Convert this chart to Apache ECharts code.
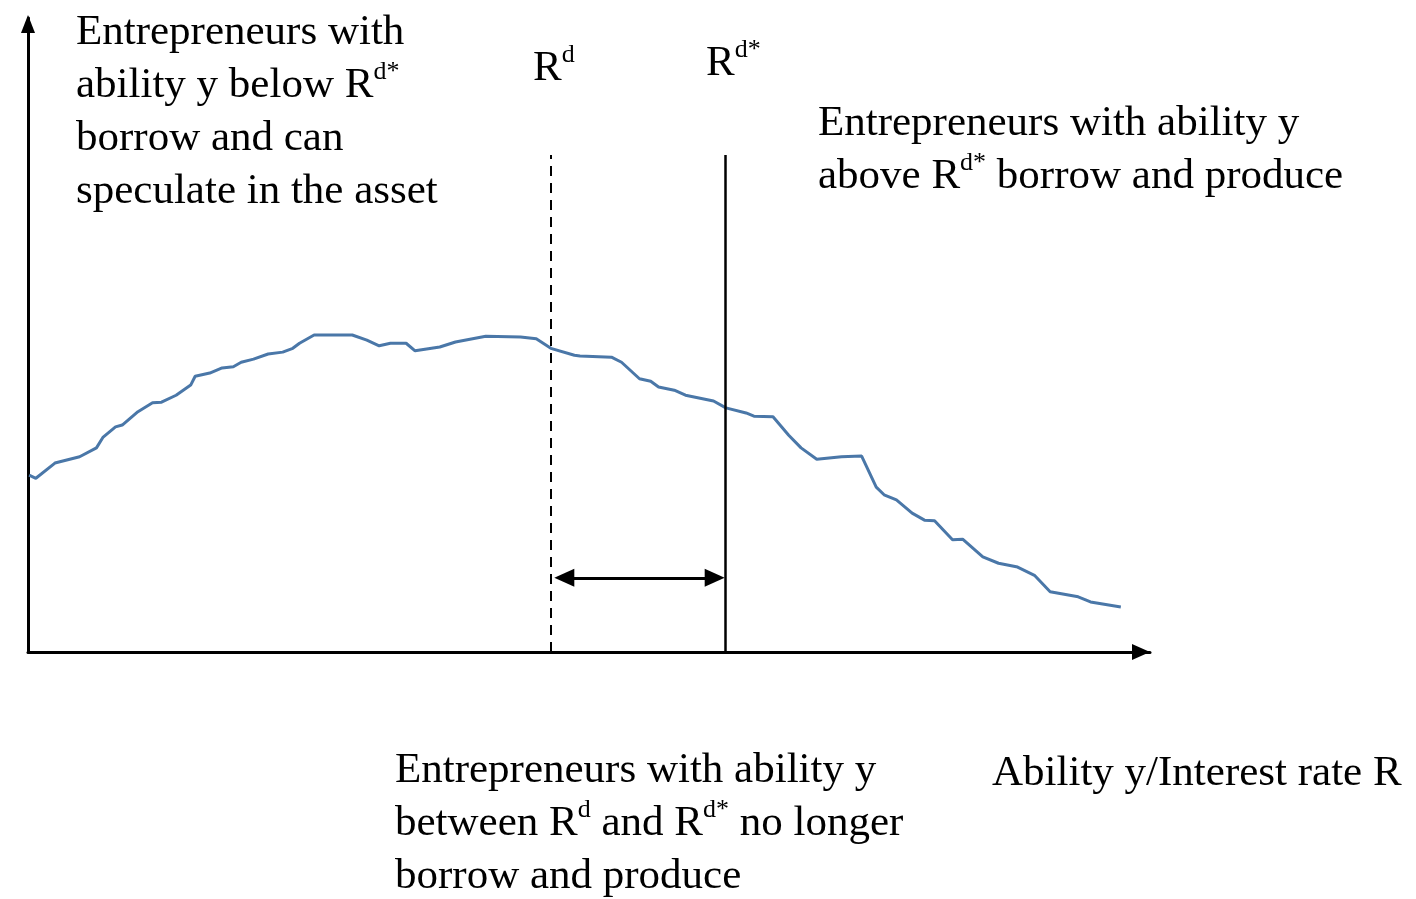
<!DOCTYPE html>
<html>
<head>
<meta charset="utf-8">
<title>Ability distribution</title>
<script src="https://cdn.jsdelivr.net/npm/echarts@6/dist/echarts.min.js"></script>
<style>
  html, body { margin: 0; padding: 0; background: #fff; }
  #chart { width: 1416px; height: 899px; }
</style>
</head>
<body>
<div id="chart"></div>
<script>
// ability y (x axis, 0-100) and density of entrepreneurs (y axis, 0-100)
const abilityX = [0.1, 0.7, 2.4, 4.6, 6.1, 6.7, 7.8, 8.4, 9.8, 11.1, 11.9, 13.2, 14.5, 14.9, 16.2, 17.3,
  18.3, 19.0, 20.1, 21.4, 22.7, 23.6, 24.2, 25.5, 26.8, 28.9, 30.2, 31.3, 32.3, 33.7, 34.5, 36.7,
  38.1, 40.8, 43.9, 45.3, 46.6, 48.7, 49.2, 52.0, 52.9, 54.5, 55.5, 56.2, 57.6, 58.6, 61.1, 62.2,
  64.0, 64.7, 66.4, 67.8, 68.9, 70.3, 72.5, 74.3, 75.6, 76.3, 77.4, 78.8, 79.9, 80.8, 81.6, 82.4,
  83.3, 85.1, 86.5, 88.2, 89.7, 91.1, 93.6, 94.7, 97.4];
const density = [27.9, 27.4, 29.8, 30.8, 32.2, 33.9, 35.5, 35.8, 37.9, 39.3, 39.4, 40.5, 42.1, 43.5, 44.0, 44.8,
  45.0, 45.7, 46.2, 47.0, 47.3, 47.9, 48.7, 50.0, 50.0, 50.0, 49.2, 48.3, 48.7, 48.7, 47.5, 48.1,
  48.9, 49.8, 49.7, 49.4, 47.9, 46.8, 46.7, 46.5, 45.7, 43.1, 42.7, 41.8, 41.3, 40.5, 39.6, 38.5,
  37.7, 37.2, 37.1, 34.2, 32.2, 30.4, 30.8, 30.9, 26.0, 24.8, 24.0, 21.9, 20.8, 20.7, 19.2, 17.7,
  17.8, 15.0, 14.0, 13.4, 12.1, 9.5, 8.7, 7.9, 7.1];

// thresholds
const rd = 46.6;       // R^d (dashed)
const rdStar = 62.1;   // R^d* (solid)
const thresholdTop = 78.4;
const arrowLevel = 11.7;

const chart = echarts.init(document.getElementById('chart'));

const serif = '"Liberation Serif", "Times New Roman", serif';
const sup = { fontSize: 26, fontFamily: serif, verticalAlign: 'top', lineHeight: 42, fill: '#000' };
function label(left, top, text) {
  return {
    type: 'text', left: left, top: top,
    style: {
      text: text, fontSize: 43, fontFamily: serif, lineHeight: 53, fill: '#000',
      rich: { sup: sup }
    }
  };
}

const points = abilityX.map((x, i) => [x, density[i]]);

const option = {
  animation: false,
  backgroundColor: '#fff',
  grid: { left: 28, right: 266, top: 18, bottom: 247 },
  xAxis: {
    type: 'value', min: 0, max: 100,
    axisLine: { show: true, symbol: ['none', 'triangle'], symbolSize: [16, 18], symbolOffset: [0, -9],
      lineStyle: { color: '#000', width: 3 } },
    axisTick: { show: false }, axisLabel: { show: false }, splitLine: { show: false }
  },
  yAxis: {
    type: 'value', min: 0, max: 100,
    axisLine: { show: true, symbol: ['none', 'triangle'], symbolSize: [14, 18], symbolOffset: [0, -6],
      lineStyle: { color: '#000', width: 3 } },
    axisTick: { show: false }, axisLabel: { show: false }, splitLine: { show: false }
  },
  series: [
    {
      type: 'line',
      data: points,
      showSymbol: false,
      smooth: false,
      lineStyle: { color: '#4a77a8', width: 3 },
      markLine: {
        silent: true,
        symbol: ['none', 'none'],
        label: { show: false },
        data: [
          [{ coord: [rd, 0], lineStyle: { type: [10, 7], color: '#000', width: 2 } },
           { coord: [rd, thresholdTop] }],
          [{ coord: [rdStar, 0], lineStyle: { type: 'solid', color: '#000', width: 2.5 } },
           { coord: [rdStar, thresholdTop] }]
        ]
      }
    },
    {
      // double arrow between R^d and R^d*
      type: 'line',
      data: [],
      markLine: {
        silent: true,
        symbol: ['triangle', 'triangle'],
        symbolSize: [18, 20],
        label: { show: false },
        lineStyle: { type: 'solid', color: '#000', width: 3 },
        data: [[{ coord: [rd + 1.2, arrowLevel] }, { coord: [rdStar - 0.9, arrowLevel] }]]
      }
    }
  ],
  graphic: [
    label(76, 6, 'Entrepreneurs with\nability y below R{sup|d*}\nborrow and can\nspeculate in the asset'),
    label(533, 42, 'R{sup|d}'),
    label(706, 37, 'R{sup|d*}'),
    label(818, 97, 'Entrepreneurs with ability y\nabove R{sup|d*} borrow and produce'),
    label(395, 744, 'Entrepreneurs with ability y\nbetween R{sup|d} and R{sup|d*} no longer\nborrow and produce'),
    label(992, 747, 'Ability y/Interest rate R')
  ]
};

chart.setOption(option);
</script>
</body>
</html>
